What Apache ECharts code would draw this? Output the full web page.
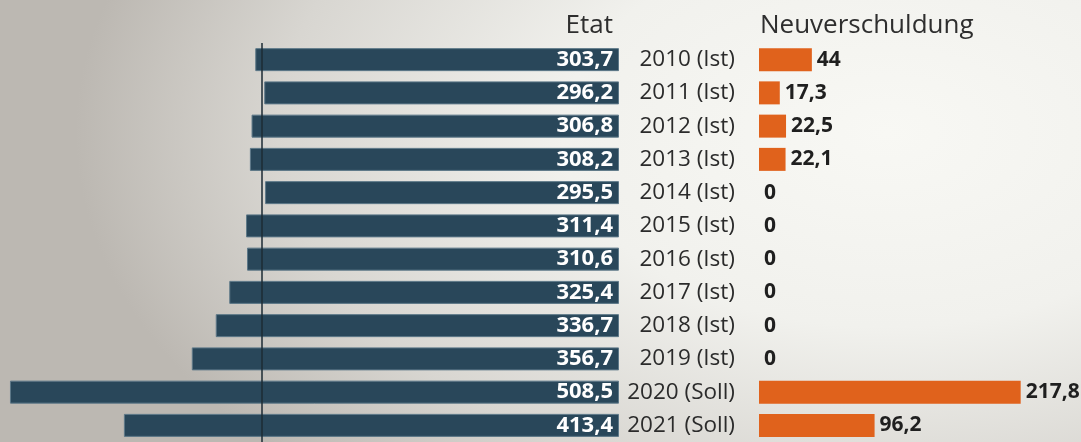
<!DOCTYPE html>
<html>
<head>
<meta charset="utf-8">
<script src="https://cdn.jsdelivr.net/npm/echarts@6/dist/echarts.min.js"></script>
<style>
    html, body { margin: 0; padding: 0; }
    #haushalt-chart {
        width: 1081px;
        height: 442px;
        background: radial-gradient(ellipse 75% 110% at 82% 30%, #f8f8f4 0%, #f1f1ed 40%, #d8d6d1 75%, #bcb8b2 100%);
    }
</style>
</head>
<body>
<div id="haushalt-chart"></div>
<script>
    // Bundeshaushalt in Mrd. Euro
    var years = ['2010 (Ist)', '2011 (Ist)', '2012 (Ist)', '2013 (Ist)', '2014 (Ist)', '2015 (Ist)',
        '2016 (Ist)', '2017 (Ist)', '2018 (Ist)', '2019 (Ist)', '2020 (Soll)', '2021 (Soll)'];
    var etat = [303.7, 296.2, 306.8, 308.2, 295.5, 311.4, 310.6, 325.4, 336.7, 356.7, 508.5, 413.4];
    var neuverschuldung = [44, 17.3, 22.5, 22.1, 0, 0, 0, 0, 0, 0, 217.8, 96.2];
    var referenceLine = 298;

    var chart = echarts.init(document.getElementById('haushalt-chart'));

    function deNum(p) {
        return String(p.value).replace('.', ',');
    }

    var font = '"Open Sans", "Noto Sans", sans-serif';

    var option = {
        backgroundColor: 'transparent',
        animation: false,
        textStyle: { fontFamily: font },
        title: [{
            text: 'Etat',
            right: 468,
            top: 13,
            padding: 0,
            textStyle: { fontSize: 26, fontWeight: 'normal', color: '#2e2e2e', fontFamily: font }
        }, {
            text: 'Neuverschuldung',
            left: 760,
            top: 13,
            padding: 0,
            textStyle: { fontSize: 26, fontWeight: 'normal', color: '#2e2e2e', fontFamily: font }
        }],
        grid: [
            { left: 1, width: 618, top: 43, height: 403 },
            { left: 759, width: 322, top: 43, height: 403 }
        ],
        xAxis: [
            { gridIndex: 0, type: 'value', min: 0, max: 516, inverse: true, show: false },
            { gridIndex: 1, type: 'value', min: 0, max: 268, show: false }
        ],
        yAxis: [
            { gridIndex: 0, type: 'category', data: years, inverse: true, show: false },
            {
                gridIndex: 1,
                type: 'category',
                data: years,
                inverse: true,
                axisLine: { show: false },
                axisTick: { show: false },
                axisLabel: {
                    margin: 24,
                    fontSize: 22.5,
                    color: '#2b2b2b',
                    fontFamily: font
                }
            }
        ],
        series: [{
            name: 'Etat',
            type: 'bar',
            xAxisIndex: 0,
            yAxisIndex: 0,
            data: etat,
            barWidth: 23,
            itemStyle: {
                color: '#29475a',
                borderColor: '#5d7888',
                borderWidth: 1
            },
            label: {
                show: true,
                position: 'insideRight',
                distance: 6,
                formatter: deNum,
                color: '#ffffff',
                fontSize: 22,
                fontWeight: 'bold',
                fontFamily: font
            },
            markLine: {
                silent: true,
                symbol: 'none',
                label: { show: false },
                lineStyle: { color: '#1c2b34', width: 1.5, type: 'solid' },
                data: [{ xAxis: referenceLine }]
            }
        }, {
            name: 'Neuverschuldung',
            type: 'bar',
            xAxisIndex: 1,
            yAxisIndex: 1,
            data: neuverschuldung,
            barWidth: 23,
            itemStyle: {
                color: '#e0621c'
            },
            label: {
                show: true,
                position: 'right',
                distance: 5,
                formatter: deNum,
                color: '#1f1f1f',
                fontSize: 21,
                fontWeight: 'bold',
                fontFamily: font
            }
        }]
    };

    chart.setOption(option);
</script>
</body>
</html>
